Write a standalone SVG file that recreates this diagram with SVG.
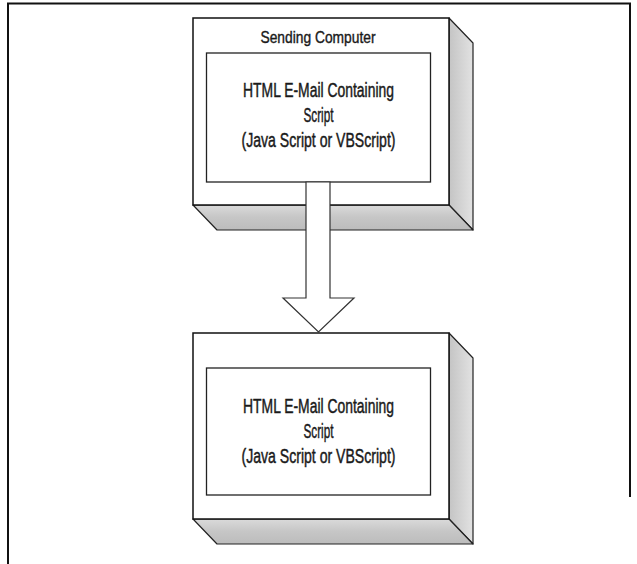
<svg xmlns="http://www.w3.org/2000/svg" width="637" height="564" viewBox="0 0 637 564">
  <defs>
    <linearGradient id="gSide" x1="0" y1="0" x2="1" y2="0">
      <stop offset="0" stop-color="#c4c4c4"/>
      <stop offset="1" stop-color="#e2e2e2"/>
    </linearGradient>
    <linearGradient id="gBottom" x1="0" y1="0" x2="0" y2="1">
      <stop offset="0" stop-color="#dadada"/>
      <stop offset="0.5" stop-color="#c6c6c6"/>
      <stop offset="1" stop-color="#bcbcbc"/>
    </linearGradient>
    <style>
      .front { fill: #ffffff; stroke: #111111; stroke-width: 1.5; }
      .side { fill: url(#gSide); stroke: #222222; stroke-width: 1.2; stroke-linejoin: round; }
      .bottom { fill: url(#gBottom); stroke: #222222; stroke-width: 1.2; stroke-linejoin: round; }
      .inner { fill: #ffffff; stroke: #222222; stroke-width: 1.3; }
      .label { font-family: "Liberation Sans", Arial, sans-serif; font-size: 19.5px; fill: #1a1a1a; stroke: #1a1a1a; stroke-width: 0.45; text-anchor: middle; }
      .title { font-family: "Liberation Sans", Arial, sans-serif; font-size: 17px; fill: #1a1a1a; stroke: #1a1a1a; stroke-width: 0.4; text-anchor: middle; }
      .arrow { fill: #ffffff; stroke: #333333; stroke-width: 1.2; stroke-linejoin: miter; }
      .frame { fill: none; stroke: #111111; stroke-width: 2; }
    </style>
  </defs>

  <rect x="0" y="0" width="637" height="564" fill="#ffffff"/>
  <path class="frame" d="M8,564 V3.5 H630 V497"/>

  <g id="sending-computer">
    <polygon class="side" points="449,18 473,43 473,230 449,205"/>
    <polygon class="bottom" points="193,205 449,205 473,230 217,230"/>
    <rect class="front" x="193" y="18" width="256" height="187"/>
    <text class="title" x="318" y="42.5" textLength="115" lengthAdjust="spacingAndGlyphs">Sending Computer</text>
    <rect class="inner" x="206.5" y="53" width="224" height="129"/>
    <text class="label" x="318.5" y="97" textLength="151" lengthAdjust="spacingAndGlyphs">HTML E-Mail Containing</text>
    <text class="label" x="318.5" y="122" textLength="30" lengthAdjust="spacingAndGlyphs">Script</text>
    <text class="label" x="318.5" y="147" textLength="154" lengthAdjust="spacingAndGlyphs">(Java Script or VBScript)</text>
  </g>

  <g id="receiving-computer">
    <polygon class="side" points="449,333 473,358 473,544 449,519"/>
    <polygon class="bottom" points="193,519 449,519 473,544 217,544"/>
    <rect class="front" x="193" y="333" width="256" height="186"/>
    <rect class="inner" x="206.5" y="368" width="224" height="127"/>
    <text class="label" x="318.5" y="412.5" textLength="151" lengthAdjust="spacingAndGlyphs">HTML E-Mail Containing</text>
    <text class="label" x="318.5" y="437.5" textLength="30" lengthAdjust="spacingAndGlyphs">Script</text>
    <text class="label" x="318.5" y="463" textLength="154" lengthAdjust="spacingAndGlyphs">(Java Script or VBScript)</text>
  </g>

  <g id="connectors">
    <polygon class="arrow" points="306,182 330,182 330,298 354,298 318.5,332 283,298 306,298"/>
  </g>
</svg>
